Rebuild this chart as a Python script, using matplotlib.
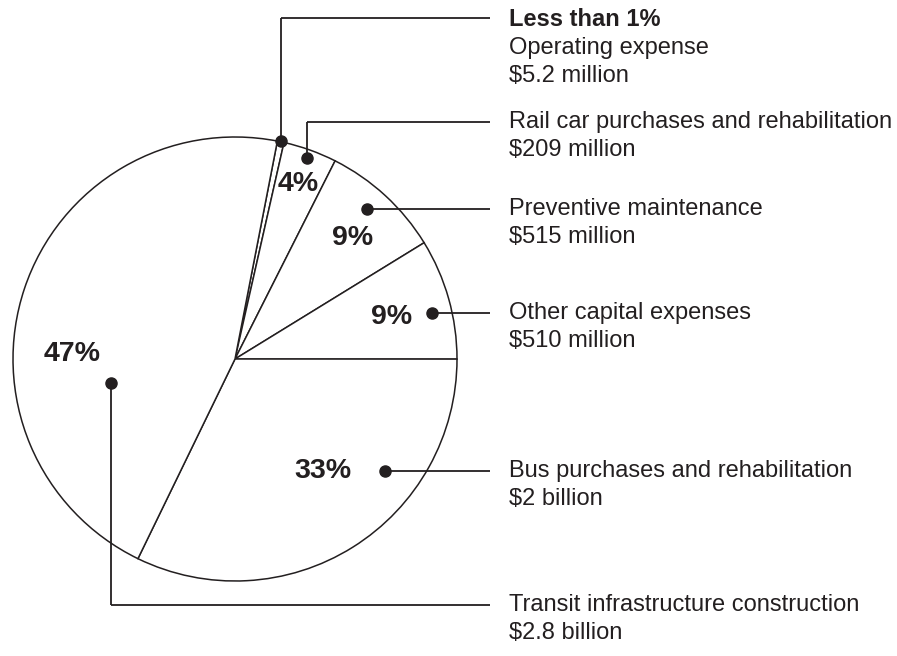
import matplotlib
matplotlib.use('Agg')
import matplotlib.pyplot as plt

W, H = 897, 656
INK = '#231f20'

# slice shares in percent, clockwise from the top (the "<1%" slice taken as 0.5)
names = ['Operating expense', 'Rail car purchases and rehabilitation',
         'Preventive maintenance', 'Other capital expenses',
         'Bus purchases and rehabilitation', 'Transit infrastructure construction']
amounts = ['$5.2 million', '$209 million', '$515 million', '$510 million',
           '$2 billion', '$2.8 billion']
shares = [0.5, 4, 9, 9, 33, 47]
pct_labels = ['Less than 1%', '4%', '9%', '9%', '33%', '47%']


def py(y):
    # pixel rows are given top-down
    return H - y


plt.rcParams['font.family'] = ['Liberation Sans', 'DejaVu Sans']

fig = plt.figure(figsize=(W / 100, H / 100), dpi=100)
ax = fig.add_axes([0, 0, 1, 1])

cx, cy, r = 235, 359, 222
ax.pie(shares, startangle=79, counterclock=False, center=(cx, py(cy)), radius=r,
       wedgeprops=dict(facecolor='white', edgecolor=INK, linewidth=1.1))
ax.set_xlim(0, W)
ax.set_ylim(0, H)
ax.set_aspect('auto')
ax.axis('off')

# leader lines: dot position, elbow row, label row
dots = [(281, 141), (307, 158), (367, 209), (432, 313), (385, 471), (111, 383)]
rows = [18, 122, 209, 313, 471, 605]
line_end = 490
text_x = 509
lw = 1.3
for (dx, dy), row in zip(dots, rows):
    if dy != row:
        ax.plot([dx, dx], [py(dy), py(row)], color=INK, lw=lw, solid_capstyle='butt')
    ax.plot([dx, line_end], [py(row), py(row)], color=INK, lw=lw, solid_capstyle='butt')
    ax.plot(dx, py(dy), 'o', color=INK, ms=8, zorder=5)

# right-hand labels
fs = 17
step = 28
for i, (name, amt, row) in enumerate(zip(names, amounts, rows)):
    lines = [name, amt]
    if i == 0:
        ax.text(text_x, py(row + 2), pct_labels[0], fontsize=fs, fontweight='bold',
                color=INK, va='center', ha='left')
        row += step + 2
    for k, s in enumerate(lines):
        ax.text(text_x, py(row + k * step), s, fontsize=fs, color=INK,
                va='center', ha='left')

# percentages inside the slices
pct_pos = [None, (298, 184), (353, 238), (392, 317), (323, 471), (72, 354)]
for lab, pos in zip(pct_labels, pct_pos):
    if pos is None:
        continue
    ax.text(pos[0], py(pos[1]), lab, fontsize=20.5, fontweight='bold', color=INK,
            ha='center', va='center')

fig.savefig('out.png', dpi=100, facecolor='white')
